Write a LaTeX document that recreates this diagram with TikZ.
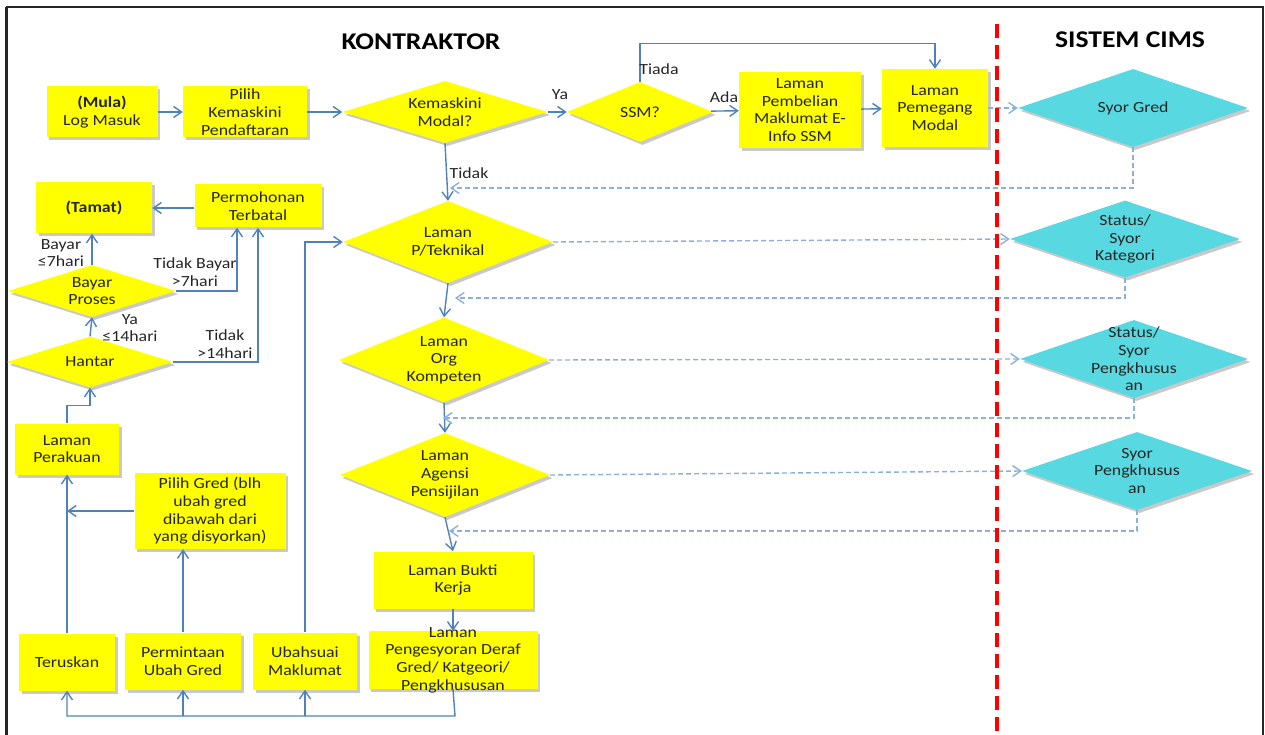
\documentclass[tikz,border=0pt]{standalone}
\usepackage{fontspec}
\setmainfont{Carlito}[FakeStretch=1.15]
\usetikzlibrary{arrows.meta, shapes.geometric, shadows}
\definecolor{cBox} {HTML}{FFFF00}
\definecolor{cSys} {HTML}{58D8E0}
\definecolor{bLine}{HTML}{4F81BD}
\definecolor{bDash}{HTML}{8DB0DA}
\definecolor{cRed} {HTML}{FF0000}
\definecolor{cText}{HTML}{262626}
\newcommand{\bodyfont}{\fontsize{15.5}{17.7}\selectfont}
\newcommand{\titlefont}{\fontsize{24}{28}\selectfont\bfseries}
\tikzset{
  shad/.style={drop shadow={shadow xshift=2.5pt, shadow yshift=-3pt,
               opacity=0.3, fill=black!70}},
  box/.style={rectangle, fill=cBox, shad, align=center, inner sep=0pt,
              font=\bodyfont, text=cText},
  decbox/.style={diamond, fill=cBox, shad, inner sep=0pt},
  sysbox/.style={diamond, fill=cSys, shad, inner sep=0pt},
  txt/.style={align=center, font=\bodyfont, text=cText, inner sep=0pt},
  arr/.style={-{Straight Barb[length=8pt, width=11pt]}, draw=bLine, line width=1.4pt},
  dasharr/.style={arr, draw=bDash, dash pattern=on 5pt off 3pt},
  seclbl/.style={font=\titlefont, text=black},
  redln/.style={draw=cRed, line width=3.5pt, dash pattern=on 14pt off 7pt},
}

\begin{document}
\begin{tikzpicture}[x=1pt, y=-1pt]
\useasboundingbox (0,0) rectangle (1265,735);

% ── Frame ─────────────────────────────────────────────────────────────────────
\draw[line width=3pt, black!85] (6,760) -- (6,7);
\draw[line width=2pt, black!85] (6,7) -- (1263,7) -- (1263,760);

\node[seclbl] (tkon) at (421,42) {KONTRAKTOR};
\node[seclbl] (tsys) at (1130,40) {SISTEM CIMS};

% ── Top row ───────────────────────────────────────────────────────────────────
\node[box, minimum width=111, minimum height=51] (mula) at (102,112)
  {\textbf{(Mula)}\\Log Masuk};
\node[box, minimum width=124, minimum height=51] (pilih) at (245,112)
  {Pilih\\Kemaskini\\Pendaftaran};
\node[decbox, minimum width=205, minimum height=62] (kem) at (445,112) {};
\node[txt] at (kem) {Kemaskini\\Modal?};
\node[decbox, minimum width=146, minimum height=60] (ssm) at (640,112) {};
\node[txt] at (ssm) {SSM?};
\node[box, minimum width=122, minimum height=76] (pbl) at (800,110)
  {Laman\\Pembelian\\Maklumat E-\\Info SSM};
\node[box, minimum width=106, minimum height=78] (pem) at (935,108)
  {Laman\\Pemegang\\Modal};

% ── Middle column ─────────────────────────────────────────────────────────────
\node[decbox, minimum width=210, minimum height=82] (tek) at (448,242) {};
\node[txt] at (tek) {Laman\\P/Teknikal};
\node[decbox, minimum width=210, minimum height=85] (komp) at (444,360) {};
\node[txt] at (komp) {Laman\\Org\\Kompeten};
\node[decbox, minimum width=210, minimum height=84] (agn) at (445,475) {};
\node[txt] at (agn) {Laman\\Agensi\\Pensijilan};
\node[box, minimum width=159, minimum height=57] (bkt) at (453,580)
  {Laman Bukti\\Kerja};
\node[box, minimum width=169, minimum height=58] (peng) at (453,660) {};
\node[txt] at (peng) {Laman\\Pengesyoran Deraf\\Gred/ Katgeori/\\Pengkhususan};

% ── Sistem CIMS column ────────────────────────────────────────────────────────
\node[sysbox, minimum width=230, minimum height=78] (sg) at (1133,108) {};
\node[txt] at (sg) {Syor Gred};
\node[sysbox, minimum width=230, minimum height=77] (sk) at (1125,239) {};
\node[txt] at (sk) {Status/\\Syor\\Kategori};
\node[sysbox, minimum width=228, minimum height=78] (pk1) at (1134,359) {};
\node[txt] at (pk1) {Status/\\Syor\\Pengkhusus\\an};
\node[sysbox, minimum width=230, minimum height=78] (pk2) at (1137,471) {};
\node[txt] at (pk2) {Syor\\Pengkhusus\\an};

% ── Left column ───────────────────────────────────────────────────────────────
\node[box, minimum width=116, minimum height=51] (tmt) at (94,208) {\textbf{(Tamat)}};
\node[box, minimum width=127, minimum height=43] (pbt) at (258,206)
  {Permohonan\\Terbatal};
\node[decbox, minimum width=168, minimum height=52] (byr) at (92,291) {};
\node[txt] at (byr) {Bayar\\Proses};
\node[decbox, minimum width=166, minimum height=51] (han) at (90,362) {};
\node[txt] at (han) {Hantar};
\node[box, minimum width=104, minimum height=51] (prk) at (67,449)
  {Laman\\Perakuan};
\node[box, minimum width=151, minimum height=76] (pgd) at (210,511)
  {Pilih Gred (blh\\ubah gred\\dibawah dari\\yang disyorkan)};
\node[box, minimum width=96, minimum height=57] (ter) at (67,662) {Teruskan};
\node[box, minimum width=116, minimum height=57] (prm) at (183,661)
  {Permintaan\\Ubah Gred};
\node[box, minimum width=104, minimum height=57] (ubh) at (305,661)
  {Ubahsuai\\Maklumat};

% ── Free ends ─────────────────────────────────────────────────────────────────
\coordinate (r1) at (450,188);
\coordinate (r2) at (455,298);
\coordinate (r3) at (443,418);
\coordinate (r4) at (449,531);
\coordinate (bus) at (455,716);

% ── Arrows ────────────────────────────────────────────────────────────────────
\draw[arr] (mula) -- (pilih);
\draw[arr] (pilih) -- (kem);
\draw[arr] (kem) -- (ssm);
\draw[arr] (ssm.north) -- ++(0,-38) -| (pem.north);
\draw[arr] (ssm) -- (pbl);
\draw[arr] (pbl) -- (pem);
\draw[arr] (kem.south) -- (tek.north);
\draw[arr] (tek.south) -- (komp.north);
\draw[arr] (komp.south) -- (agn.north);
\draw[arr] (agn.south) -- (bkt.north);
\draw[arr] (bkt.south) -- (peng.north);

% CIMS round trips
\draw[dasharr] (pem.east) -- (sg.west);
\draw[dasharr] (sg.south) |- (r1);
\draw[dasharr] (tek.east) -- (sk.west);
\draw[dasharr] (sk.south) |- (r2);
\draw[dasharr] (komp.east) -- (pk1.west);
\draw[dasharr] (pk1.south) |- (r3);
\draw[dasharr] (agn.east) -- (pk2.west);
\draw[dasharr] (pk2.south) |- (r4);

% Bottom bus back to the choices
\draw[arr] (peng.south) -- (bus) -| (ter.south);
\draw[arr] (prm.south |- bus) -- (prm.south);
\draw[arr] (ubh.south |- bus) -- (ubh.south);
\draw[arr] (ubh.north) |- (tek.west);
\draw[arr] (prm.north) -- (prm.north |- pgd.south);
\draw[arr] (pgd.west) -- (pgd.west -| ter.north);
\draw[arr] (ter.north) -- (prk.south);
\draw[arr] (prk.north) -- ++(0,-18) -| (han.south);

% Submission and payment
\draw[arr] (han.north) -- (byr.south);
\draw[arr] (han.east) -| (pbt.south);
\draw[arr] (byr.east) -| ([xshift=-21pt]pbt.south);
\draw[arr] (byr.north) -- (byr.north |- tmt.south);
\draw[arr] ([yshift=-2pt]pbt.west) -- ([yshift=-2pt]pbt.west -| tmt.east);

% ── Lane divider ──────────────────────────────────────────────────────────────
\draw[redln] (997,24) -- (997,740);

% ── Connector labels ──────────────────────────────────────────────────────────
\node[txt] (lya)   at (560,95)  {Ya};
\node[txt] (ltia)  at (659,69)  {Tiada};
\node[txt] (lada)  at (724,97)  {Ada};
\node[txt] (ltdk)  at (469,173) {Tidak};
\node[txt] (lb7)   at (61,253)  {Bayar\\≤7hari};
\node[txt] (ltb7)  at (195,272) {Tidak Bayar\\>7hari};
\node[txt] (ly14)  at (130,328) {Ya\\≤14hari};
\node[txt] (lt14)  at (225,344) {Tidak\\>14hari};

\end{tikzpicture}
\end{document}
